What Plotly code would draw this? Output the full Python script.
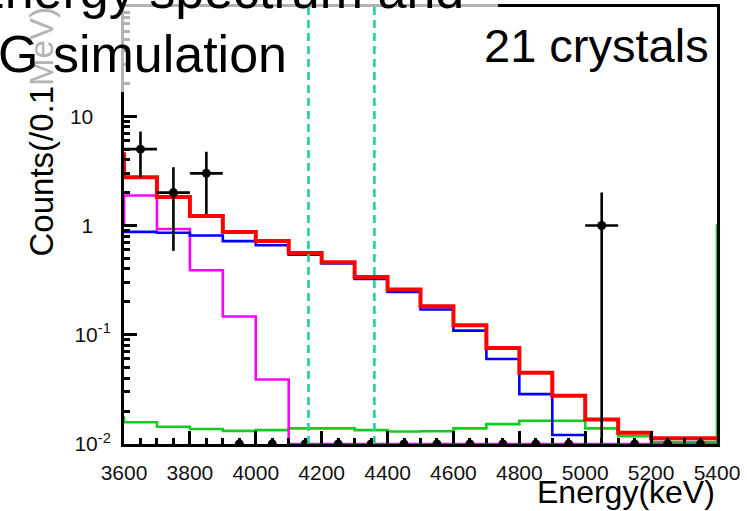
import math
import plotly.graph_objects as go

# ---------------- data ----------------
# histogram bin edges (keV); first bin is the one just left of the axis, last one just right of it
bin_edges = [3500, 3600, 3700, 3800, 3900, 4000, 4100, 4200, 4300, 4400, 4500,
             4600, 4700, 4800, 4900, 5000, 5100, 5200, 5300, 5400, 5500]

total_fit = [4.5, 2.77, 1.82, 1.22, 0.87, 0.72, 0.56, 0.46, 0.338, 0.259, 0.182,
             0.122, 0.0755, 0.045, 0.0277, 0.0168, 0.0127, 0.0113, 0.0113, 0.0113]
signal_like = [0.875, 0.875, 0.857, 0.81, 0.72, 0.66, 0.54, 0.45, 0.324, 0.246, 0.17,
               0.109, 0.060, 0.0286, 0.0121, 0.001, 0.001, 0.001, 0.001, 0.001]
low_energy = [1.05, 1.88, 0.93, 0.39, 0.147, 0.039, 0.01, 0.01, 0.01, 0.01, 0.01,
              0.01, 0.01, 0.01, 0.01, 0.01, 0.01, 0.01, 0.01, 0.01]
alpha_bkg = [0.0175, 0.0158, 0.0144, 0.0137, 0.0132, 0.0134, 0.0139, 0.0139, 0.0134, 0.0130, 0.0131,
             0.0139, 0.0152, 0.0163, 0.0163, 0.0139, 0.0118, 0.0104, 0.0104, 1.0]

# observed data (bin centres, counts)
data_energy = [3650, 3750, 3850, 3950, 4050, 4150, 4250, 4350, 4450, 4550,
               4650, 4750, 4850, 4950, 5050, 5150, 5250, 5350]
data_counts = [5, 2, 3, 0, 0, 0, 0, 0, 0, 0, 0, 0, 0, 0, 1, 0, 0, 0]
data_half_width = 50

window_edges = [4160, 4360]

x_ticks = [3600, 3800, 4000, 4200, 4400, 4600, 4800, 5000, 5200, 5400]
y_tickvals = [0.01, 0.1, 1, 10]
y_ticktext = ["10<sup>-2</sup>", "10<sup>-1</sup>", "1\u00a0\u00a0\u00a0", "10\u00a0\u00a0\u00a0"]

# ---------------- layout geometry ----------------
W, H = 747, 511
L, R, T, B = 124, 30, 7, 67
PW, PH = W - L - R, H - T - B
FONT = "Liberation Sans"
Y_MIN_LOG, Y_MAX_LOG = -2, 2


def px_x(px):
    return (px - L) / PW


def px_y(py):
    return 1 - (py - T) / PH


def step_trace(values, color, width):
    return go.Scatter(
        x=bin_edges, y=values + [values[-1]], mode="lines", line_shape="hv",
        line=dict(color=color, width=width), hoverinfo="skip", showlegend=False,
    )


fig = go.Figure()
fig.add_trace(step_trace(alpha_bkg, "#12cc22", 2.6))
fig.add_trace(step_trace(low_energy, "#ff00ff", 2.6))
fig.add_trace(step_trace(signal_like, "#0000ff", 2.6))
fig.add_trace(step_trace(total_fit, "#ff0000", 4))

floor = 10 ** Y_MIN_LOG
fig.add_trace(go.Scatter(
    x=data_energy,
    y=[c if c > 0 else floor for c in data_counts],
    mode="markers",
    marker=dict(color="black", size=9),
    error_y=dict(type="data", array=[math.sqrt(c) for c in data_counts],
                 color="black", thickness=2.6, width=0),
    error_x=dict(type="data", array=[data_half_width if c > 0 else 0 for c in data_counts],
                 color="black", thickness=2.6, width=0),
    cliponaxis=True, showlegend=False,
))

axis_common = dict(
    showgrid=False, zeroline=False, showline=True, linecolor="black", linewidth=3,
    mirror=True, ticks="inside", ticklen=13, tickwidth=2.5, tickcolor="black",
    tickfont=dict(family=FONT, size=21, color="#111111"),
)

fig.update_xaxes(
    range=[3600, 5400], tickmode="array", tickvals=x_ticks,
    ticklabelstandoff=8,
    minor=dict(ticks="inside", ticklen=6, tickwidth=2.5, tickcolor="black", dtick=50, tick0=3600),
    **axis_common,
)
fig.update_yaxes(
    type="log", range=[Y_MIN_LOG, Y_MAX_LOG], tickmode="array",
    tickvals=y_tickvals, ticktext=y_ticktext, ticklabelstandoff=6,
    minor=dict(ticks="inside", ticklen=6, tickwidth=2.5, tickcolor="black", dtick="D1"),
    **axis_common,
)

shapes = [
    dict(type="rect", xref="paper", yref="paper", layer="above",
         x0=px_x(-5), x1=px_x(498), y0=px_y(92), y1=px_y(-5),
         fillcolor="rgba(255,255,255,0.7)", line=dict(width=0)),
]
for e in window_edges:
    shapes.append(dict(type="line", xref="x", yref="paper", layer="above",
                       x0=e, x1=e, y0=0, y1=1,
                       line=dict(color="#1fcf9f", width=2.6, dash="8px,5px")))

annotations = [
    dict(text="Counts(/0.1<span style='color:#b4b4b4'>MeV)</span>", textangle=-90,
         xref="paper", yref="paper", x=px_x(40.5), y=px_y(132),
         xanchor="center", yanchor="middle", showarrow=False,
         font=dict(family=FONT, size=33, color="black")),
    dict(text="Energy spectrum and", xref="paper", yref="paper",
         x=px_x(-31), y=px_y(-10), xanchor="left", yanchor="middle", showarrow=False,
         borderpad=0, font=dict(family=FONT, size=52, color="black")),
    dict(text="G simulation", xref="paper", yref="paper",
         x=px_x(-3), y=px_y(54), xanchor="left", yanchor="middle", showarrow=False,
         borderpad=0, font=dict(family=FONT, size=52, color="black")),
    dict(text="21 crystals", xref="paper", yref="paper",
         x=px_x(710), y=px_y(45.5), xanchor="right", yanchor="middle", showarrow=False,
         borderpad=0, font=dict(family=FONT, size=47, color="black")),
    dict(text="Energy(keV)", xref="paper", yref="paper",
         x=px_x(716), y=px_y(492), xanchor="right", yanchor="middle", showarrow=False,
         borderpad=0, font=dict(family=FONT, size=32, color="black")),
]

fig.update_layout(
    width=W, height=H, margin=dict(l=L, r=R, t=T, b=B, autoexpand=False),
    paper_bgcolor="white", plot_bgcolor="white",
    shapes=shapes, annotations=annotations, showlegend=False,
)

fig.write_html("out.html", config={"displayModeBar": False},
               post_script="document.body.style.margin='0';")
